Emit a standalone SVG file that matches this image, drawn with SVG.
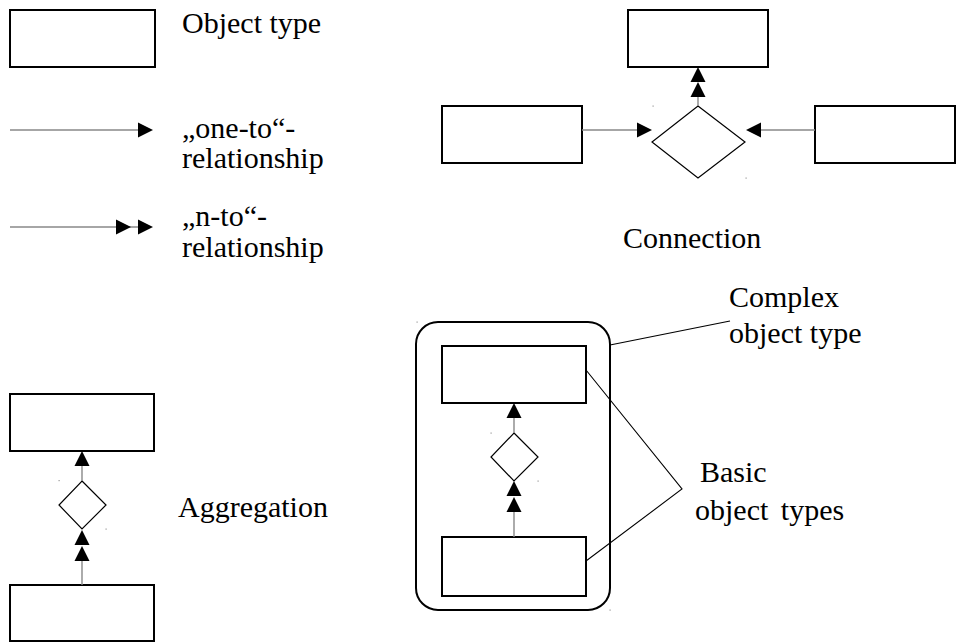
<svg xmlns="http://www.w3.org/2000/svg" xmlns:xlink="http://www.w3.org/1999/xlink" width="967" height="643" viewBox="0 0 967 643">
<style>
.box{fill:#fff;stroke:#000;stroke-width:2}
.dia{fill:#fff;stroke:#000;stroke-width:1.2}
.ln{stroke:#888;stroke-width:1.4;fill:none}
.lead{stroke:#000;stroke-width:1.1;fill:none}
.hd{fill:#000}
.dot{fill:#999}
text{font-family:"Liberation Serif","Times New Roman",serif;font-size:30px;fill:#000}
</style>
<defs>
<path id="ah" d="M-15,-7.5 L0,0 L-15,7.5 Z"/>
</defs>
<rect width="967" height="643" fill="#fff"/>

<g id="legend-object">
<rect class="box" x="10" y="10" width="145" height="57"/>
<text x="182" y="33">Object type</text>
</g>
<g id="legend-one-to">
<text x="182" y="138">„one-to“-</text>
<text x="182" y="168">relationship</text>
</g>
<g id="legend-n-to">
<text x="182" y="226">„n-to“-</text>
<text x="182" y="257">relationship</text>
</g>

<g id="conn-top"><rect class="box" x="628" y="10" width="140" height="57"/></g>
<g id="conn-left"><rect class="box" x="442" y="106" width="140" height="57"/></g>
<g id="conn-right"><rect class="box" x="815" y="106" width="140" height="57"/></g>
<g id="conn-diamond"><polygon class="dia" points="698,106 745,142 698,178 652,142"/></g>
<g id="conn-label"><text x="623" y="248">Connection</text></g>

<g id="agg-top"><rect class="box" x="10" y="394" width="144" height="57"/></g>
<g id="agg-diamond"><polygon class="dia" points="82,481 106,505 82,529 59,505"/></g>
<g id="agg-bottom"><rect class="box" x="10" y="585" width="144" height="56"/></g>
<g id="agg-label"><text x="178" y="517">Aggregation</text></g>

<g id="complex">
<rect class="box" x="416" y="322" width="194" height="288" rx="22" ry="22"/>
</g>
<g id="complex-top"><rect class="box" x="442" y="346" width="144" height="57"/></g>
<g id="complex-diamond"><polygon class="dia" points="514,433 538,457 514,481 491,457"/></g>
<g id="complex-bottom"><rect class="box" x="442" y="537" width="144" height="59"/></g>
<g id="complex-label"><text x="729" y="307">Complex</text><text x="729" y="343">object type</text></g>
<g id="basic-label"><text x="700" y="482">Basic</text><text x="695" y="520" word-spacing="5">object types</text></g>

<g id="connectors">
<!-- legend -->
<line class="ln" x1="10" y1="130" x2="139" y2="130"/>
<use xlink:href="#ah" class="hd" transform="translate(153,130)"/>
<line class="ln" x1="10" y1="227" x2="139" y2="227"/>
<use xlink:href="#ah" class="hd" transform="translate(131,227)"/>
<use xlink:href="#ah" class="hd" transform="translate(153,227)"/>
<!-- connection -->
<line class="ln" x1="582" y1="130" x2="638" y2="130"/>
<use xlink:href="#ah" class="hd" transform="translate(652,130)"/>
<line class="ln" x1="815" y1="130" x2="760" y2="130"/>
<use xlink:href="#ah" class="hd" transform="translate(746,130) rotate(180)"/>
<line class="ln" x1="698" y1="106" x2="698" y2="96"/>
<use xlink:href="#ah" class="hd" transform="translate(698,82) rotate(-90)"/>
<use xlink:href="#ah" class="hd" transform="translate(698,67) rotate(-90)"/>
<!-- aggregation -->
<line class="ln" x1="82" y1="481" x2="82" y2="465"/>
<use xlink:href="#ah" class="hd" transform="translate(82,451) rotate(-90)"/>
<line class="ln" x1="82" y1="585" x2="82" y2="561"/>
<use xlink:href="#ah" class="hd" transform="translate(82,546) rotate(-90)"/>
<use xlink:href="#ah" class="hd" transform="translate(82,530) rotate(-90)"/>
<!-- complex -->
<line class="ln" x1="514" y1="433" x2="514" y2="417"/>
<use xlink:href="#ah" class="hd" transform="translate(514,403) rotate(-90)"/>
<line class="ln" x1="514" y1="537" x2="514" y2="512"/>
<use xlink:href="#ah" class="hd" transform="translate(514,497) rotate(-90)"/>
<use xlink:href="#ah" class="hd" transform="translate(514,481) rotate(-90)"/>
<!-- leaders -->
<line class="lead" x1="610" y1="345" x2="730" y2="321"/>
<polyline class="lead" points="586,370 682,489 586,561"/>
</g>
<g id="artifacts">
<rect class="dot" x="652.5" y="105.5" width="1.2" height="1.2"/>
<rect class="dot" x="745.5" y="177.5" width="1.2" height="1.2"/>
<rect class="dot" x="58.5" y="480" width="1.2" height="1.2"/>
<rect class="dot" x="105.5" y="528.5" width="1.2" height="1.2"/>
<rect class="dot" x="490.5" y="432.5" width="1.2" height="1.2"/>
<rect class="dot" x="537.5" y="480.5" width="1.2" height="1.2"/>
<rect class="dot" x="416.5" y="321.5" width="1.2" height="1.2"/>
<rect class="dot" x="609.5" y="609.5" width="1.2" height="1.2"/>
</g>
</svg>
